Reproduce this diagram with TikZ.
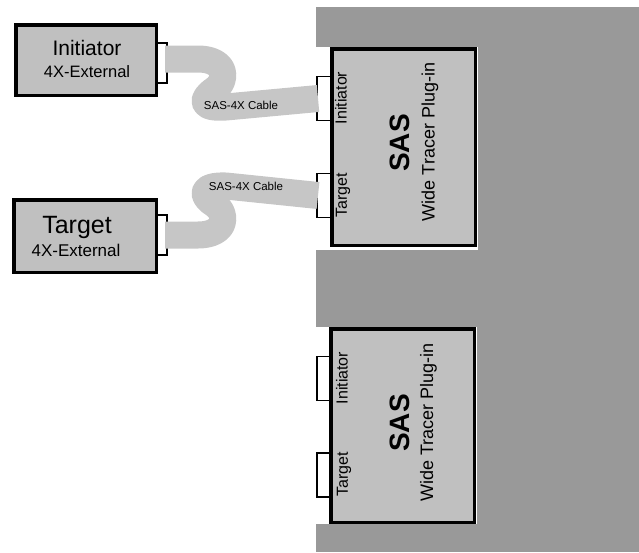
\documentclass[tikz,border=0pt]{standalone}
\usepackage{fontspec}
\setmainfont{Liberation Sans}
\usetikzlibrary{calc}
\definecolor{bggray}{HTML}{999999}
\definecolor{boxgray}{HTML}{C0C0C0}
\definecolor{cablegray}{HTML}{C6C6C6}
\tikzset{
  box/.style={draw, line width=3.5pt, fill=boxgray, inner sep=0pt},
  cable/.style={draw=cablegray, line width=27pt, line join=round},
  portline/.style={line width=1.2pt},
  vlabel/.style={rotate=90, inner sep=0pt},
}
\newcommand{\fsz}[1]{\fontsize{#1}{#1}\selectfont}

\begin{document}
\begin{tikzpicture}[x=1pt,y=-1pt]
  \useasboundingbox (0,0) rectangle (639,552);
  \fill[bggray] (316,7) rectangle (639,552);
  \fill[white] (316,47) rectangle (478,250);
  \fill[white] (316,327) rectangle (477,524);

  \node[box, minimum width=140.5pt, minimum height=70.5pt] (initext) at (86,60) {};
  \node[box, minimum width=142.5pt, minimum height=72.5pt] (targext) at (85,236) {};
  \node[box, minimum width=143.5pt, minimum height=196.5pt] (sasup) at (403.5,147) {};
  \node[box, minimum width=143.5pt, minimum height=193.5pt] (saslow) at (402.5,425.5) {};

  \node[inner sep=0pt, anchor=base] (initname) at (87,55) {\fsz{21}Initiator};
  \node[inner sep=0pt, anchor=base] (initsub) at (87,77) {\fsz{16.5}4X-External};
  \node[inner sep=0pt, anchor=base] (targname) at (77,233) {\fsz{25}Target};
  \node[inner sep=0pt, anchor=base] (targsub) at (76,256) {\fsz{17}4X-External};

  \node[vlabel] (upinit) at (341,98) {\fsz{16}Initiator};
  \node[vlabel] (uptarg) at (343,195) {\fsz{16}Target};
  \node[vlabel] (upsas) at (400,143) {\fsz{28}\bfseries SAS};
  \node[vlabel] (upwide) at (430,142) {\fsz{18}Wide Tracer Plug-in};
  \node[vlabel] (lowinit) at (342,378) {\fsz{16}Initiator};
  \node[vlabel] (lowtarg) at (344,474) {\fsz{16}Target};
  \node[vlabel] (lowsas) at (400,423) {\fsz{28}\bfseries SAS};
  \node[vlabel] (lowwide) at (428.5,422.5) {\fsz{18}Wide Tracer Plug-in};

  \coordinate (initport) at (167,63);
  \coordinate (targport) at (167,235);
  \coordinate (upinitport) at (317,98.5);
  \coordinate (uptargport) at (317,195.5);
  \coordinate (lowinitport) at (317,378.5);
  \coordinate (lowtargport) at (317,475);

  \foreach \p in {initport,targport}
    \draw[portline] ($(\p)+(-10,-20)$) -| ($(\p)+(0,20)$) -- ++(-10,0);
  \foreach \p in {upinitport,uptargport,lowinitport,lowtargport}
    \draw[portline] ($(\p)+(13,-22)$) -| ($(\p)+(0,22)$) -- ++(13,0);

  \draw[cable] ($(initport)+(-2,-4)$) -- (198,59)
    .. controls (226,59) and (229,80) .. (214,90)
    .. controls (201,99) and (200,109) .. (226,107) -- ($(upinitport)+(1,0)$);
  \draw[cable] ($(targport)+(-2,0)$) -- (198,235)
    .. controls (226,235) and (229,214) .. (214,204)
    .. controls (201,196) and (200,185) .. (226,186) -- ($(uptargport)+(1,0)$);

  \node (upcable) at (241,105) {\fsz{11.5}SAS-4X Cable};
  \node (lowcable) at (246,186) {\fsz{11.5}SAS-4X Cable};
\end{tikzpicture}
\end{document}
